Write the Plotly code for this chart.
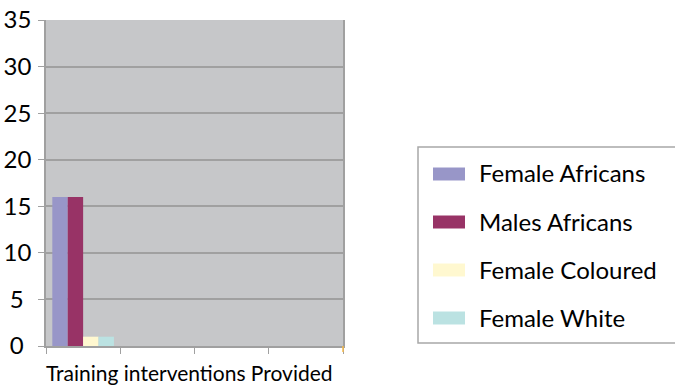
import plotly.graph_objects as go

# ---- data ----
categories = ["Training interventions Provided", "cat2", "cat3", "cat4"]
series_names = ["Female Africans", "Males Africans", "Female Coloured", "Female White"]
female_africans = [16, None, None, None]
males_africans = [16, None, None, None]
female_coloured = [1, None, None, None]
female_white = [1, None, None, None]
y_ticks = [0, 5, 10, 15, 20, 25, 30, 35]
y_tick_labels = ["0\u00a0\u200a", "5\u00a0\u200a", "10", "15", "20", "25", "30", "35"]

series_values = [female_africans, males_africans, female_coloured, female_white]
colors = ["#9896c8", "#983366", "#fff8d0", "#bbe2e2"]

FONT = "Lato"
W, H = 675, 385
L, R, T, B = 46, 332, 20, 39
PW, PH = W - L - R, H - T - B


def px(x):
    return (x - L) / PW


def py(y):
    return (H - B - y) / PH


fig = go.Figure()
for name, vals, col in zip(series_names, series_values, colors):
    fig.add_trace(go.Bar(x=categories, y=vals, name=name, marker_color=col,
                         marker_line_width=0, showlegend=False))

fig.update_layout(
    width=W, height=H,
    margin=dict(l=L, r=R, t=T, b=B, autoexpand=False),
    paper_bgcolor="white",
    plot_bgcolor="#c6c7c9",
    barmode="group",
    bargap=0.17,
    bargroupgap=0,
    font=dict(family=FONT, size=21, color="black"),
    xaxis=dict(type="category", categoryorder="array", categoryarray=categories,
               range=[-0.5, 3.5], showticklabels=False, ticks="outside",
               tickson="boundaries", ticklen=6, tickcolor="#a0a0a0",
               showline=True, linecolor="#a0a0a0", linewidth=1.5, showgrid=False,
               zeroline=False, automargin=False),
    yaxis=dict(range=[0, 35], tickvals=y_ticks, ticktext=y_tick_labels,
               ticks="outside", ticklen=6,
               tickcolor="#a0a0a0", showline=True, linecolor="#a0a0a0",
               linewidth=1.5, mirror=True, gridcolor="#a0a0a0", gridwidth=1.5,
               zeroline=False, ticklabelstandoff=2, automargin=False,
               tickfont=dict(family=FONT, size=24, color="black")),
)

# orange final tick
fig.add_shape(type="line", xref="paper", yref="paper", x0=px(343), x1=px(343),
              y0=py(346), y1=py(352), line=dict(color="#f5b94a", width=1.5))

# category label (overflowing text in original)
fig.add_annotation(text=categories[0], xref="paper", yref="paper",
                   x=px(44), y=py(372), xanchor="left", yanchor="middle",
                   showarrow=False, font=dict(family=FONT, size=21, color="black"))

# custom legend
fig.add_shape(type="rect", xref="paper", yref="paper", x0=px(418), x1=px(690),
              y0=py(343), y1=py(147), line=dict(color="#a8a8a8", width=1.5),
              fillcolor="white", layer="below")
for i, (name, col) in enumerate(zip(series_names, colors)):
    cy = 174 + 48 * i
    fig.add_shape(type="rect", xref="paper", yref="paper", x0=px(433), x1=px(465),
                  y0=py(cy + 6.5), y1=py(cy - 6.5), line=dict(width=0), fillcolor=col)
    fig.add_annotation(text=name, xref="paper", yref="paper", x=px(477), y=py(cy - 1),
                       xanchor="left", yanchor="middle", showarrow=False,
                       font=dict(family=FONT, size=24, color="black"))

fig.write_html("out.html")
